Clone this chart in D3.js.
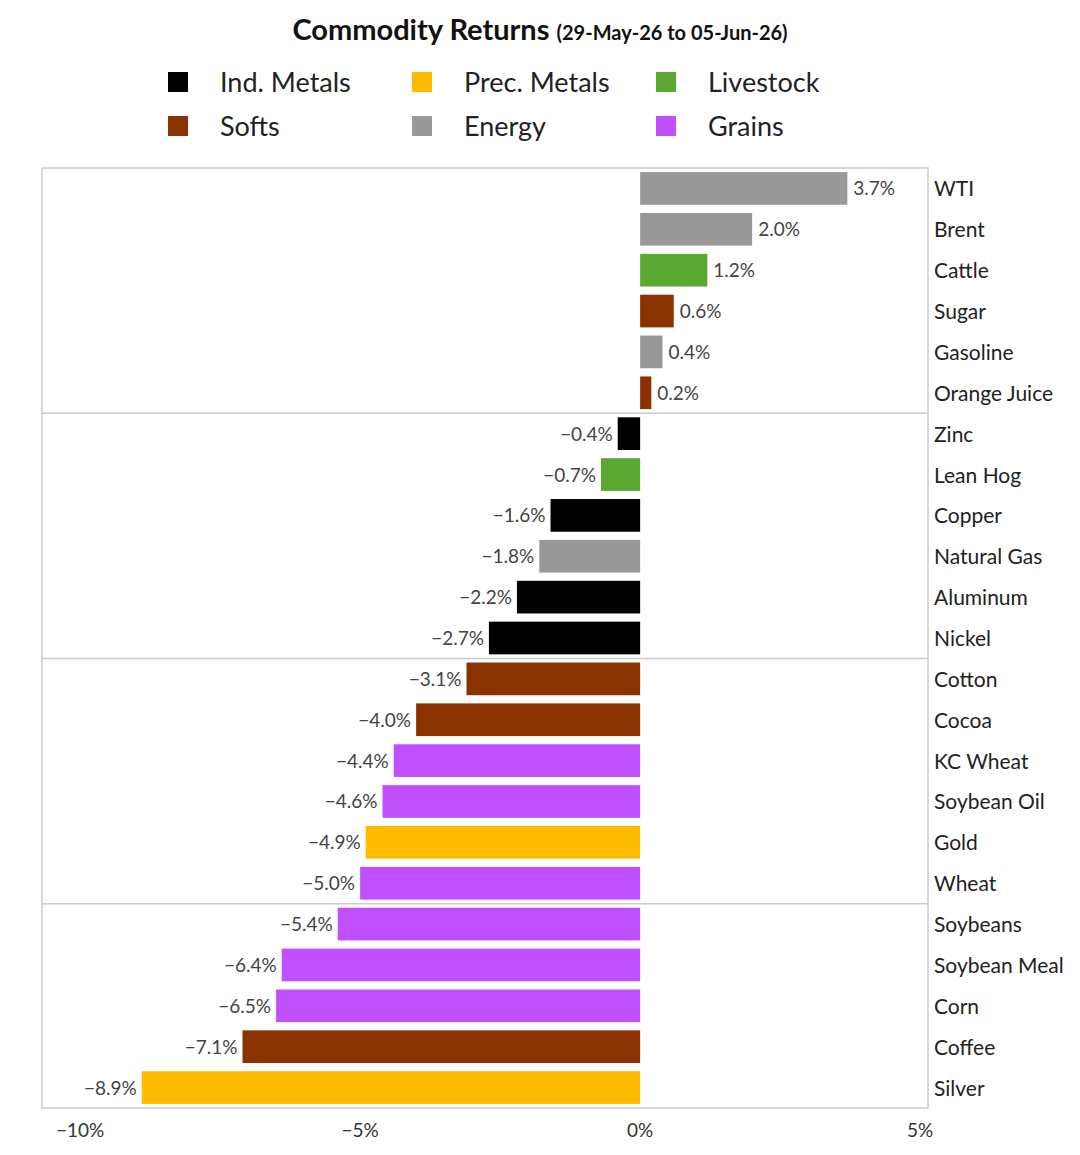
<!DOCTYPE html><html><head><meta charset="utf-8">
<script src="https://cdn.jsdelivr.net/npm/d3@7"></script>
<style>body{margin:0;background:#fff;font-family:Lato,"Open Sans",sans-serif}</style></head><body>
<svg id="c" width="1080" height="1155"></svg>
<script>
const names=["WTI","Brent","Cattle","Sugar","Gasoline","Orange Juice","Zinc","Lean Hog","Copper","Natural Gas","Aluminum","Nickel","Cotton","Cocoa","KC Wheat","Soybean Oil","Gold","Wheat","Soybeans","Soybean Meal","Corn","Coffee","Silver"];
const values=[3.7,2.0,1.2,0.6,0.4,0.2,-0.4,-0.7,-1.6,-1.8,-2.2,-2.7,-3.1,-4.0,-4.4,-4.6,-4.9,-5.0,-5.4,-6.4,-6.5,-7.1,-8.9];
const groups=["Energy","Energy","Livestock","Softs","Energy","Softs","Ind. Metals","Livestock","Ind. Metals","Energy","Ind. Metals","Ind. Metals","Softs","Softs","Grains","Grains","Prec. Metals","Grains","Grains","Grains","Grains","Softs","Prec. Metals"];
const legendOrder=["Ind. Metals","Prec. Metals","Livestock","Softs","Energy","Grains"];
const colors={"Ind. Metals":"#000000","Prec. Metals":"#ffbb00","Livestock":"#5aa832","Softs":"#8b3300","Energy":"#999999","Grains":"#c050ff"};
const ticks=[-10,-5,0,5];
const svg=d3.select("#c");
const L=42,R=928,T=168,B=1108;
const x=d3.scaleLinear().domain([-10.68,5.14]).range([L,R]);
const y=d3.scaleBand().domain(names).range([T,B]).paddingInner(0.2).paddingOuter(0.1);
const step=(B-T)/names.length;
const t=svg.append("text").attr("x",540).attr("y",40).attr("text-anchor","middle").attr("fill","#111");
t.append("tspan").attr("font-size",29).attr("font-weight",700).text("Commodity Returns ");
t.append("tspan").attr("font-size",20).attr("font-weight",700).text("(29-May-26 to 05-Jun-26)");
legendOrder.forEach((g,i)=>{const cx=168+(i%3)*244,cy=72+Math.floor(i/3)*44;
svg.append("rect").attr("x",cx).attr("y",cy).attr("width",20).attr("height",20).attr("fill",colors[g]);
svg.append("text").attr("x",cx+52).attr("y",cy+20).attr("font-size",27).attr("fill","#222").text(g);});
svg.append("rect").attr("x",L).attr("y",T).attr("width",R-L).attr("height",B-T).attr("fill","none").attr("stroke","#ccc").attr("stroke-width",1.5);
[6,12,18].forEach(k=>svg.append("line").attr("x1",L).attr("x2",R).attr("y1",T+k*step).attr("y2",T+k*step).attr("stroke","#ccc").attr("stroke-width",1.5));
names.forEach((n,i)=>{const v=values[i];
svg.append("rect").attr("x",x(Math.min(0,v))).attr("y",y(n)).attr("width",Math.abs(x(v)-x(0))).attr("height",y.bandwidth()).attr("fill",colors[groups[i]]);
svg.append("text").attr("x",v>=0?x(v)+6:x(v)-5).attr("y",y(n)+y.bandwidth()/2+7).attr("text-anchor",v>=0?"start":"end").attr("font-size",19).attr("fill","#444").text((v<0?"\u2212":"")+Math.abs(v).toFixed(1)+"%");
svg.append("text").attr("x",934).attr("y",y(n)+y.bandwidth()/2+8).attr("font-size",21).attr("fill","#222").text(n);});
ticks.forEach(v=>svg.append("text").attr("x",x(v)).attr("y",1137).attr("text-anchor","middle").attr("font-size",19).attr("fill","#333").text((v<0?"\u2212":"")+Math.abs(v)+"%"));
</script></body></html>
